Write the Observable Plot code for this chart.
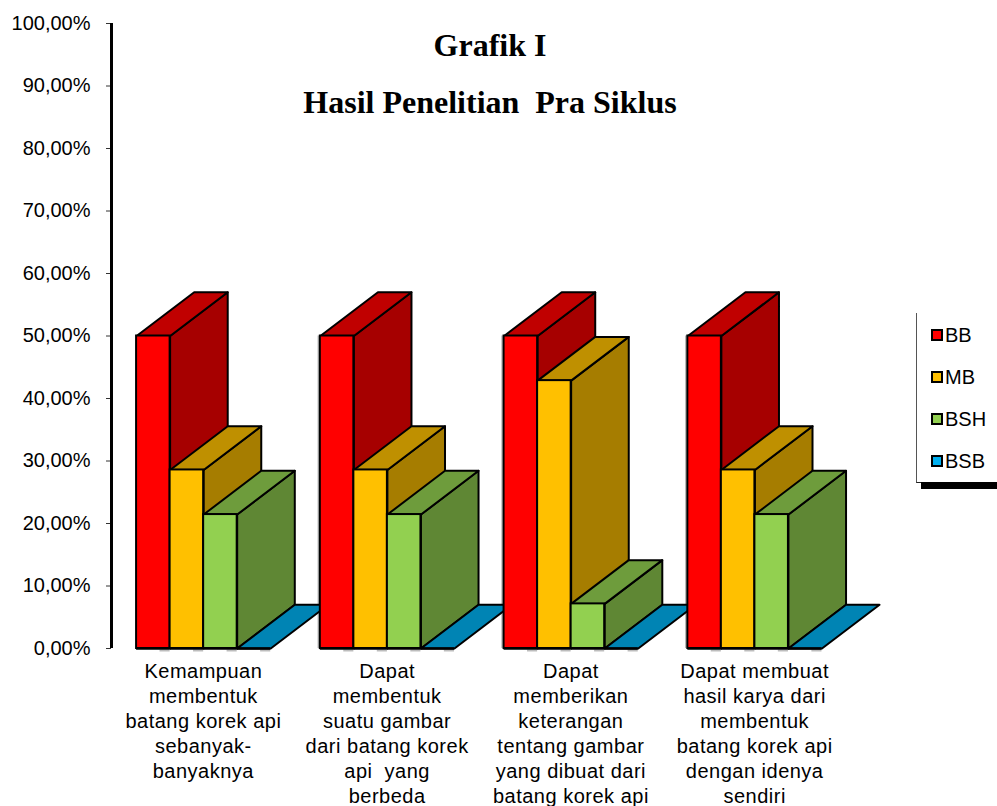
<!DOCTYPE html>
<html>
<head>
<meta charset="utf-8">
<script src="https://cdn.jsdelivr.net/npm/d3@7"></script>
<script src="https://cdn.jsdelivr.net/npm/@observablehq/plot@0.6"></script>
<style>
  html, body { margin: 0; padding: 0; background: #fff; }
  #chart { position: relative; width: 997px; height: 806px; overflow: hidden; font-family: "Liberation Sans", Arial, sans-serif; color: #000; }
  #chart svg { display: block; position: absolute; left: 0; top: 0; background: transparent; }
  #chart svg g[aria-label="x-axis tick label"] { letter-spacing: 0.5px; }
  .title { position: absolute; left: 0; width: 980px; text-align: center; font: bold 32px "Liberation Serif", "Times New Roman", serif; white-space: pre; }
  #legend { position: absolute; left: 916px; top: 313px; width: 81px; height: 170px; border-left: 1px solid #555; border-bottom: 1px solid #222; box-sizing: border-box; }
  #legend::after { content: ""; position: absolute; left: 4px; right: 0; top: 169px; height: 7px; background: #000; }
  .entry { position: absolute; left: 14px; height: 24px; line-height: 24px; font-size: 20px; white-space: pre; }
  .swatch { display: inline-block; width: 8px; height: 8px; border: 2px solid #000; margin-right: 2px; vertical-align: 1px; }
</style>
</head>
<body>
<div id="chart"></div>
<script>
// Survey results for the pre-cycle stage, percent of children per level
const categories = [
  "Kemampuan\nmembentuk\nbatang korek api\nsebanyak-\nbanyaknya",
  "Dapat\nmembentuk\nsuatu gambar\ndari batang korek\napi  yang\nberbeda",
  "Dapat\nmemberikan\nketerangan\ntentang gambar\nyang dibuat dari\nbatang korek api",
  "Dapat membuat\nhasil karya dari\nmembentuk\nbatang korek api\ndengan idenya\nsendiri"
];
const levels = ["BB", "MB", "BSH", "BSB"];
const BB  = [50, 50, 50, 50];
const MB  = [28.57, 28.57, 42.86, 28.57];
const BSH = [21.43, 21.43, 7.14, 21.43];
const BSB = [0, 0, 0, 0];
const seriesValues = [BB, MB, BSH, BSB];
const frontColors = ["#ff0000", "#ffc000", "#92d050", "#00b0f0"];
const topColors   = ["#c00000", "#bf9000", "#6e9c3c", "#0084b4"];
const sideColors  = ["#a60000", "#a67d00", "#5f8734", "#00729c"];
const yTicks = d3.range(0, 101, 10);

// Category band is one unit wide; the extrusion is a fixed shift in both data axes
const groupInset = 0.1365, barWidth = 0.1825, depthX = 0.3135, depthY = 7;

const fronts = [], faces = [];
categories.forEach((_, c) => {
  levels.forEach((level, s) => {
    const x1 = c + groupInset + s * barWidth, x2 = x1 + barWidth, v = seriesValues[s][c];
    const id = `${c}-${s}`;
    const face = (name, fill, pts) => pts.forEach(([x, y]) => faces.push({id: id + name, order: c * 4 + s, fill, x, y}));
    if (v > 0) face("side", sideColors[s], [[x2, 0], [x2 + depthX, depthY], [x2 + depthX, v + depthY], [x2, v]]);
    face("top", topColors[s], [[x1, v], [x2, v], [x2 + depthX, v + depthY], [x1 + depthX, v + depthY]]);
    fronts.push({order: c * 4 + s, c, s, x1, x2, v, fill: frontColors[s]});
  });
});

// Painter's order: bars further right sit in front of the extrusions of those on their left
const layers = d3.range(categories.length * levels.length).flatMap((order) => [
  Plot.line(faces.filter((d) => d.order === order), {
    x: "x", y: "y", z: "id", fill: "fill", stroke: "#000", strokeWidth: 2, curve: "linear-closed"
  }),
  Plot.rect(fronts.filter((d) => d.order === order && d.v > 0), {
    x1: "x1", x2: "x2", y1: 0, y2: "v", fill: "fill", stroke: "#000", strokeWidth: 2
  }),
  Plot.ruleY(fronts.filter((d) => d.order === order), {y: 0, x1: "x1", x2: "x2", stroke: "#000", strokeWidth: 2.5})
]);

const plot = Plot.plot({
  width: 997,
  height: 806,
  marginLeft: 111,
  marginRight: 151,
  marginTop: 23,
  marginBottom: 158,
  style: {background: "transparent", fontFamily: "'Liberation Sans', Arial, sans-serif", fontSize: "20px", color: "#000", overflow: "hidden"},
  x: {domain: [0, categories.length]},
  y: {domain: [0, 100]},
  color: {type: "identity"},
  marks: [
    Plot.axisY({
      ticks: yTicks, tickSize: 5, tickPadding: 16, fontSize: 20, label: null,
      stroke: "#333", fill: "#000",
      tickFormat: (d) => d.toFixed(2).replace(".", ",") + "%"
    }),
    Plot.axisX({
      ticks: categories.map((_, i) => i + 0.5), tickSize: 0, tickPadding: 12, fontSize: 20, label: null,
      lineHeight: 1.245, lineAnchor: "top", fill: "#000",
      tickFormat: (d) => categories[Math.floor(d)]
    }),
    // Faint shadow down the left of each later cluster and short dashes under the bar ends
    Plot.ruleX(fronts.filter((d) => d.s === 0 && d.c > 0), {x: "x1", y1: 0, y2: "v", dx: -2, stroke: "#b5b5b5", strokeWidth: 1.5}),
    Plot.ruleY(fronts, {y: 0, x1: (d) => d.x2 - 0.055, x2: "x2", dy: 2, stroke: "#bdbdbd", strokeWidth: 2}),
    ...layers,
    Plot.ruleX([0], {y1: 0, y2: 100, strokeWidth: 3, stroke: "#000"})
  ]
});

const chart = document.getElementById("chart");
chart.appendChild(plot);

// Heading lines over the plot area
[["Grafik I", 27], ["Hasil Penelitian  Pra Siklus", 84]].forEach(([text, top]) => {
  const el = document.createElement("div");
  el.className = "title";
  el.style.top = top + "px";
  el.textContent = text;
  chart.appendChild(el);
});

// Level key on the right
const legend = document.createElement("div");
legend.id = "legend";
levels.forEach((level, i) => {
  const row = document.createElement("div");
  row.className = "entry";
  row.style.top = 10 + i * 42 + "px";
  const sw = document.createElement("span");
  sw.className = "swatch";
  sw.style.background = frontColors[i];
  row.appendChild(sw);
  row.appendChild(document.createTextNode(level));
  legend.appendChild(row);
});
chart.appendChild(legend);
</script>
</body>
</html>
